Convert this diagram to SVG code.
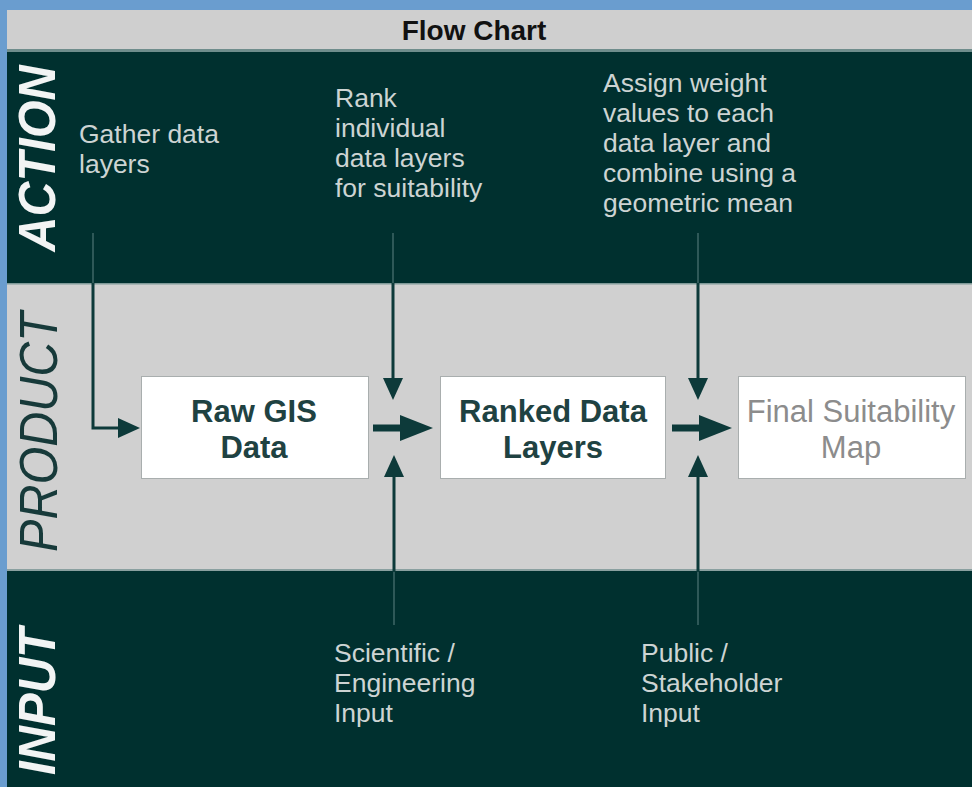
<svg xmlns="http://www.w3.org/2000/svg" width="972" height="787" viewBox="0 0 972 787">
<style>
.band-dark{fill:#00302f}
.band-light{fill:#d0d0d0}
.lbl{font-family:"Liberation Sans",Arial,sans-serif;fill:#f2f4f4;font-style:italic}
.act{font-family:"Liberation Sans",Arial,sans-serif;font-size:26.5px;fill:#cdd4d3}
.box{fill:#ffffff;stroke:#a9aeae;stroke-width:1}
.bt{font-family:"Liberation Sans",Arial,sans-serif;font-size:31px;font-weight:bold;fill:#1f4242;text-anchor:middle}
.bt2{font-family:"Liberation Sans",Arial,sans-serif;font-size:31px;fill:#8c8c8c;text-anchor:middle}
.thin{fill:none;stroke:#4d7575;stroke-width:1.2}
.thick{fill:none;stroke:#0d3a3a;stroke-width:3}
.fat{fill:none;stroke:#0d3a3a;stroke-width:7}
</style>
<defs>
<marker id="ah" markerUnits="userSpaceOnUse" markerWidth="22" markerHeight="20" refX="0" refY="10" orient="auto">
<path d="M0,0 L22,10 L0,20 z" fill="#0d3a3a"/>
</marker>
<marker id="ahbig" markerUnits="userSpaceOnUse" markerWidth="33" markerHeight="26" refX="0" refY="13" orient="auto">
<path d="M0,0 L33,13 L0,26 z" fill="#0d3a3a"/>
</marker>
</defs>
<rect x="0" y="0" width="972" height="787" fill="#6a9dcf"/>
<g id="header">
<rect x="7" y="10" width="965" height="40" fill="#cfcfcf"/>
<rect x="7" y="49" width="965" height="3" fill="#6f8d8c"/>
<text x="474" y="40" font-family="Liberation Sans,Arial,sans-serif" font-size="28" font-weight="bold" fill="#111" text-anchor="middle">Flow Chart</text>
</g>
<g id="bands">
<rect class="band-dark" x="7" y="52" width="965" height="231"/>
<rect class="band-light" x="7" y="283" width="965" height="288"/>
<rect x="7" y="283" width="965" height="1.5" fill="#7f9998"/>
<rect x="7" y="569" width="965" height="2" fill="#8aa0a0"/>
<rect class="band-dark" x="7" y="571" width="965" height="216"/>
</g>
<g id="lane-labels">
<text class="lbl" transform="translate(55,158.5) rotate(-90)" font-size="52" font-weight="bold" text-anchor="middle" textLength="186" lengthAdjust="spacingAndGlyphs">ACTION</text>
<text class="lbl" transform="translate(57,432) rotate(-90)" font-size="54" text-anchor="middle" textLength="240" lengthAdjust="spacingAndGlyphs" style="fill:#173a3a">PRODUCT</text>
<text class="lbl" transform="translate(55,701.5) rotate(-90)" font-size="52" font-weight="bold" text-anchor="middle" textLength="147" lengthAdjust="spacingAndGlyphs">INPUT</text>
</g>
<g id="action-gather">
<text class="act" x="79" y="143">Gather data</text>
<text class="act" x="79" y="173">layers</text>
</g>
<g id="action-rank">
<text class="act" x="335" y="107">Rank</text>
<text class="act" x="335" y="137">individual</text>
<text class="act" x="335" y="167">data layers</text>
<text class="act" x="335" y="197">for suitability</text>
</g>
<g id="action-assign">
<text class="act" x="603" y="92">Assign weight</text>
<text class="act" x="603" y="122">values to each</text>
<text class="act" x="603" y="152">data layer and</text>
<text class="act" x="603" y="182">combine using a</text>
<text class="act" x="603" y="212">geometric mean</text>
</g>
<g id="input-scientific">
<text class="act" x="334" y="662">Scientific /</text>
<text class="act" x="334" y="692">Engineering</text>
<text class="act" x="334" y="722">Input</text>
</g>
<g id="input-public">
<text class="act" x="641" y="662">Public /</text>
<text class="act" x="641" y="692">Stakeholder</text>
<text class="act" x="641" y="722">Input</text>
</g>
<g id="node-raw">
<rect class="box" x="141.5" y="376.5" width="227" height="102"/>
<text class="bt" x="254" y="422">Raw GIS</text>
<text class="bt" x="254" y="458">Data</text>
</g>
<g id="node-ranked">
<rect class="box" x="440.5" y="376.5" width="225" height="102"/>
<text class="bt" x="553" y="422">Ranked Data</text>
<text class="bt" x="553" y="458">Layers</text>
</g>
<g id="node-final">
<rect class="box" x="738.5" y="376.5" width="227" height="102"/>
<text class="bt2" x="851" y="422">Final Suitability</text>
<text class="bt2" x="851" y="458">Map</text>
</g>
<g id="connectors">
<path class="thin" d="M93,233 V283"/>
<path class="thick" d="M93,283 V428 H118" marker-end="url(#ah)"/>
<path class="thin" d="M393,233 V283"/>
<path class="thick" d="M393,283 V378" marker-end="url(#ah)"/>
<path class="thin" d="M394,572 V625"/>
<path class="thick" d="M394,572 V477" marker-end="url(#ah)"/>
<path class="fat" d="M373,428 H400" marker-end="url(#ahbig)"/>
<path class="thin" d="M698,233 V283"/>
<path class="thick" d="M698,283 V378" marker-end="url(#ah)"/>
<path class="thin" d="M698,572 V625"/>
<path class="thick" d="M698,572 V477" marker-end="url(#ah)"/>
<path class="fat" d="M672,428 H699" marker-end="url(#ahbig)"/>
</g>
</svg>
